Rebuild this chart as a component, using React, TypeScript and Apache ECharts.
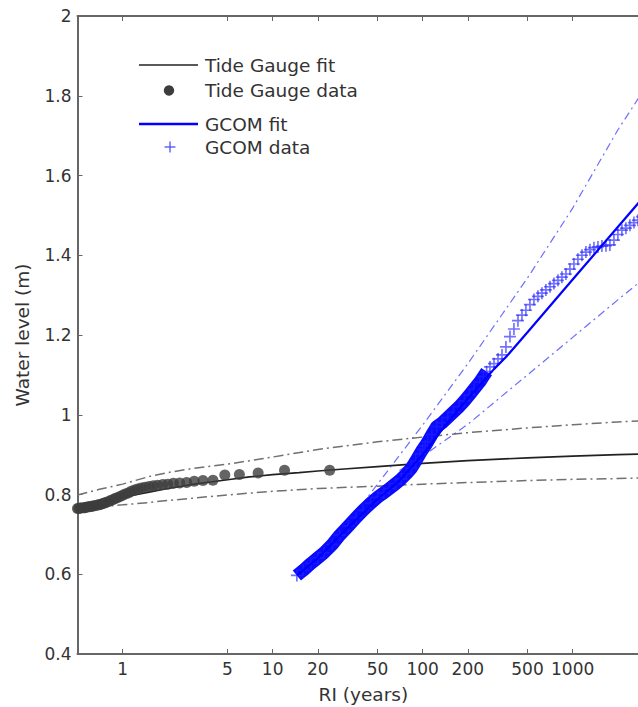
import React, { useEffect, useRef } from "react";
import * as echarts from "echarts";

// ---------- data ----------
const xTickValues = [1, 5, 10, 20, 50, 100, 200, 500, 1000];
const xMinRI = 0.5;
const xMaxLog = 3.51;

// Tide gauge data (RI in years, water level in m)
const tgRI = [24, 12, 8, 6, 4.8, 4, 3.43, 3, 2.67, 2.4, 2.18, 2, 1.85, 1.71, 1.6, 1.5, 1.41, 1.33, 1.26, 1.2, 1.14, 1.09, 1.04, 1, 0.96, 0.92, 0.89, 0.86, 0.83, 0.8, 0.77, 0.75, 0.73, 0.71, 0.69, 0.67, 0.65, 0.63, 0.62, 0.6, 0.59, 0.57, 0.56, 0.55, 0.53, 0.52, 0.51, 0.5];
const tgLevel = [0.861, 0.861, 0.854, 0.85, 0.849, 0.836, 0.835, 0.833, 0.83, 0.829, 0.828, 0.826, 0.825, 0.823, 0.822, 0.82, 0.818, 0.816, 0.814, 0.811, 0.808, 0.804, 0.801, 0.798, 0.795, 0.792, 0.79, 0.787, 0.785, 0.782, 0.78, 0.778, 0.777, 0.775, 0.774, 0.773, 0.772, 0.771, 0.77, 0.769, 0.769, 0.768, 0.767, 0.767, 0.766, 0.766, 0.765, 0.765];

// Tide gauge fit and confidence bounds
const tgFitRI = [0.5, 0.6, 0.7, 0.85, 1, 1.25, 1.5, 2, 3, 5, 7, 10, 15, 20, 30, 50, 100, 200, 500, 1000, 2000, 3300];
const tgFitLevel = [0.768, 0.774, 0.78, 0.787, 0.793, 0.8, 0.806, 0.815, 0.826, 0.837, 0.844, 0.85, 0.855, 0.859, 0.864, 0.87, 0.878, 0.885, 0.892, 0.896, 0.9, 0.902];
const tgCiRI = [0.5, 0.7, 1, 1.5, 2, 3, 5, 10, 20, 50, 100, 200, 500, 1000, 2000, 3300];
const tgUpper = [0.799, 0.813, 0.826, 0.845, 0.855, 0.866, 0.876, 0.894, 0.913, 0.932, 0.944, 0.955, 0.967, 0.975, 0.982, 0.986];
const tgLower = [0.765, 0.769, 0.774, 0.78, 0.785, 0.791, 0.799, 0.808, 0.815, 0.821, 0.826, 0.83, 0.835, 0.838, 0.84, 0.842];

// GCOM data
const gcomRI = [14.5, 16, 18, 20, 22, 25, 28, 32, 36, 40, 45, 50, 55, 60, 66, 72, 78, 84, 90, 96, 100, 104, 108, 115, 124, 135, 147, 160, 175, 190, 205, 220, 240, 254, 267, 281, 299, 318, 338, 359, 382, 406, 432, 459, 488, 519, 552, 587, 624, 663, 706, 750, 798, 848, 902, 959, 1020, 1084, 1153, 1226, 1304, 1386, 1474, 1567, 1667, 1772, 1884, 2003, 2130, 2265, 2408, 2562, 2725, 2897, 3080];
const gcomLevel = [0.597, 0.61, 0.627, 0.641, 0.654, 0.675, 0.698, 0.721, 0.742, 0.76, 0.778, 0.793, 0.804, 0.815, 0.827, 0.839, 0.852, 0.866, 0.884, 0.902, 0.913, 0.922, 0.932, 0.95, 0.97, 0.98, 0.993, 1.006, 1.02, 1.035, 1.05, 1.064, 1.082, 1.096, 1.108, 1.12, 1.128, 1.14, 1.15, 1.17, 1.196, 1.215, 1.236, 1.25, 1.262, 1.276, 1.289, 1.297, 1.305, 1.313, 1.321, 1.329, 1.337, 1.345, 1.353, 1.365, 1.378, 1.39, 1.4, 1.408, 1.414, 1.419, 1.421, 1.423, 1.424, 1.426, 1.438, 1.452, 1.463, 1.468, 1.475, 1.482, 1.488, 1.497, 1.506];
const gcomDenseMaxRI = 270;

// GCOM fit and confidence bounds
const gcomFitRI = [14.5, 20, 30, 50, 70, 100, 150, 200, 300, 362, 500, 1000, 2000, 3300];
const gcomFitLevel = [0.597, 0.64, 0.708, 0.788, 0.835, 0.9, 0.985, 1.04, 1.115, 1.146, 1.207, 1.339, 1.471, 1.566];
const gcomUpRI = [28, 50, 100, 200, 500, 1000, 2000, 3300];
const gcomUpLevel = [0.7, 0.826, 0.974, 1.128, 1.343, 1.518, 1.714, 1.84];
const gcomLoRI = [70, 100, 200, 500, 1000, 2000, 3300];
const gcomLoLevel = [0.86, 0.896, 0.976, 1.1, 1.194, 1.288, 1.355];

// ---------- helpers ----------
const lg = (v: number) => Math.log10(v);
const pairs = (xs: number[], ys: number[]) => xs.map((x, i) => [lg(x), ys[i]]);

const FONT = "DejaVu Sans";
const PLUS = "path://M4.3,0H5.7V4.3H10V5.7H5.7V10H4.3V5.7H0V4.3H4.3Z";

export default function App() {
  const ref = useRef<HTMLDivElement>(null);

  useEffect(() => {
    if (!ref.current) return;
    document.body.style.margin = "0";
    const chart = echarts.init(ref.current, undefined, { renderer: "svg" });

    const xMin = lg(xMinRI);
    const gridLeft = 77.5;
    const pxPerDecade = 150;
    const gridWidth = pxPerDecade * (xMaxLog - xMin);
    const tickLogs = xTickValues.map(lg);

    const axisLineStyle = { color: "#666", width: 2 };
    const dashDot = [10, 4, 2, 4];

    const tickFmt = (v: number) => String(Math.round(Math.pow(10, v)));

    const lineBase = {
      type: "line" as const,
      showSymbol: false,
      symbol: "none",
      silent: true,
      smooth: false,
    };

    const denseIdx = gcomRI.map((r, i) => i).filter((i) => gcomRI[i] <= gcomDenseMaxRI);

    chart.setOption({
      animation: false,
      backgroundColor: "#ffffff",
      textStyle: { fontFamily: FONT },
      grid: {
        left: gridLeft,
        top: 16,
        width: gridWidth,
        height: 638,
        containLabel: false,
        outerBoundsMode: "none",
      },
      xAxis: [
        {
          type: "value",
          position: "bottom",
          min: xMin,
          max: xMaxLog,
          name: "RI (years)",
          nameLocation: "middle",
          nameGap: 31,
          nameTextStyle: { fontFamily: FONT, fontSize: 18.5, color: "#333" },
          axisLine: { onZero: false, lineStyle: axisLineStyle },
          axisTick: { inside: true, length: 5, customValues: tickLogs, lineStyle: { color: "#666", width: 1 } },
          axisLabel: {
            customValues: tickLogs,
            formatter: tickFmt,
            fontFamily: FONT,
            fontSize: 17,
            color: "#333",
            margin: 6,
          },
          splitLine: { show: false },
        },
        {
          type: "value",
          position: "top",
          min: xMin,
          max: xMaxLog,
          axisLine: { onZero: false, lineStyle: axisLineStyle },
          axisTick: { inside: true, length: 5, customValues: tickLogs, lineStyle: { color: "#666", width: 1 } },
          axisLabel: { show: false },
          splitLine: { show: false },
        },
      ],
      yAxis: {
        type: "value",
        min: 0.4,
        max: 2,
        interval: 0.2,
        name: "Water level (m)",
        nameLocation: "middle",
        nameGap: 46,
        nameTextStyle: { fontFamily: FONT, fontSize: 18.5, color: "#333" },
        axisLine: { show: true, onZero: false, lineStyle: axisLineStyle },
        axisTick: { show: true, inside: true, length: 5, lineStyle: { color: "#666", width: 1 } },
        axisLabel: { fontFamily: FONT, fontSize: 17, color: "#333", margin: 6 },
        splitLine: { show: false },
      },
      series: [
        {
          ...lineBase,
          name: "Tide Gauge upper",
          data: pairs(tgCiRI, tgUpper),
          lineStyle: { color: "#707070", width: 1.5, type: dashDot },
          z: 2,
        },
        {
          ...lineBase,
          name: "Tide Gauge lower",
          data: pairs(tgCiRI, tgLower),
          lineStyle: { color: "#707070", width: 1.5, type: dashDot },
          z: 2,
        },
        {
          ...lineBase,
          name: "Tide Gauge fit",
          data: pairs(tgFitRI, tgFitLevel),
          lineStyle: { color: "#222", width: 1.7 },
          z: 3,
        },
        {
          type: "scatter",
          name: "Tide Gauge data",
          silent: true,
          symbol: "circle",
          symbolSize: 11,
          data: pairs(tgRI, tgLevel),
          itemStyle: { color: "#3d3d3d" },
          z: 4,
        },
        {
          ...lineBase,
          name: "GCOM upper",
          data: pairs(gcomUpRI, gcomUpLevel),
          lineStyle: { color: "rgba(60,60,255,0.75)", width: 1.2, type: [8, 4, 2, 4] },
          z: 5,
        },
        {
          ...lineBase,
          name: "GCOM lower",
          data: pairs(gcomLoRI, gcomLoLevel),
          lineStyle: { color: "rgba(60,60,255,0.75)", width: 1.2, type: [8, 4, 2, 4] },
          z: 5,
        },
        {
          type: "line",
          name: "GCOM data band",
          silent: true,
          showSymbol: false,
          symbol: "none",
          data: denseIdx.map((i) => [lg(gcomRI[i]), gcomLevel[i]]),
          lineStyle: { color: "#0a0aff", width: 13, cap: "butt", join: "round" },
          z: 6,
        },
        {
          type: "scatter",
          name: "GCOM data",
          silent: true,
          symbol: PLUS,
          symbolSize: 12,
          data: pairs(gcomRI, gcomLevel),
          itemStyle: { color: "rgba(35,35,255,0.8)" },
          z: 6,
        },
        {
          ...lineBase,
          name: "GCOM fit",
          data: pairs(gcomFitRI, gcomFitLevel),
          lineStyle: { color: "#0000ff", width: 2.2 },
          z: 7,
        },
      ],
      graphic: [
        {
          type: "line",
          shape: { x1: 139, y1: 65, x2: 198, y2: 65 },
          style: { stroke: "#222", lineWidth: 1.7 },
          silent: true,
        },
        {
          type: "circle",
          shape: { cx: 169, cy: 90.5, r: 5.2 },
          style: { fill: "#3d3d3d" },
          silent: true,
        },
        {
          type: "line",
          shape: { x1: 139, y1: 124, x2: 198, y2: 124 },
          style: { stroke: "#0000ff", lineWidth: 2.4 },
          silent: true,
        },
        {
          type: "line",
          shape: { x1: 164.5, y1: 147, x2: 175.5, y2: 147 },
          style: { stroke: "#5050ff", lineWidth: 1.3 },
          silent: true,
        },
        {
          type: "line",
          shape: { x1: 170, y1: 141.5, x2: 170, y2: 152.5 },
          style: { stroke: "#5050ff", lineWidth: 1.3 },
          silent: true,
        },
        {
          type: "text",
          x: 205,
          y: 65,
          style: { text: "Tide Gauge fit", fill: "#333", fontFamily: FONT, fontSize: 18.5, verticalAlign: "middle" },
          silent: true,
        },
        {
          type: "text",
          x: 205,
          y: 90.5,
          style: { text: "Tide Gauge data", fill: "#333", fontFamily: FONT, fontSize: 18.5, verticalAlign: "middle" },
          silent: true,
        },
        {
          type: "text",
          x: 205,
          y: 124,
          style: { text: "GCOM fit", fill: "#333", fontFamily: FONT, fontSize: 18.5, verticalAlign: "middle" },
          silent: true,
        },
        {
          type: "text",
          x: 205,
          y: 147,
          style: { text: "GCOM data", fill: "#333", fontFamily: FONT, fontSize: 18.5, verticalAlign: "middle" },
          silent: true,
        },
      ],
    });

    return () => chart.dispose();
  }, []);

  return (
    <div
      ref={ref}
      style={{ position: "absolute", left: 0, top: 0, width: 638, height: 707, overflow: "hidden" }}
    />
  );
}
